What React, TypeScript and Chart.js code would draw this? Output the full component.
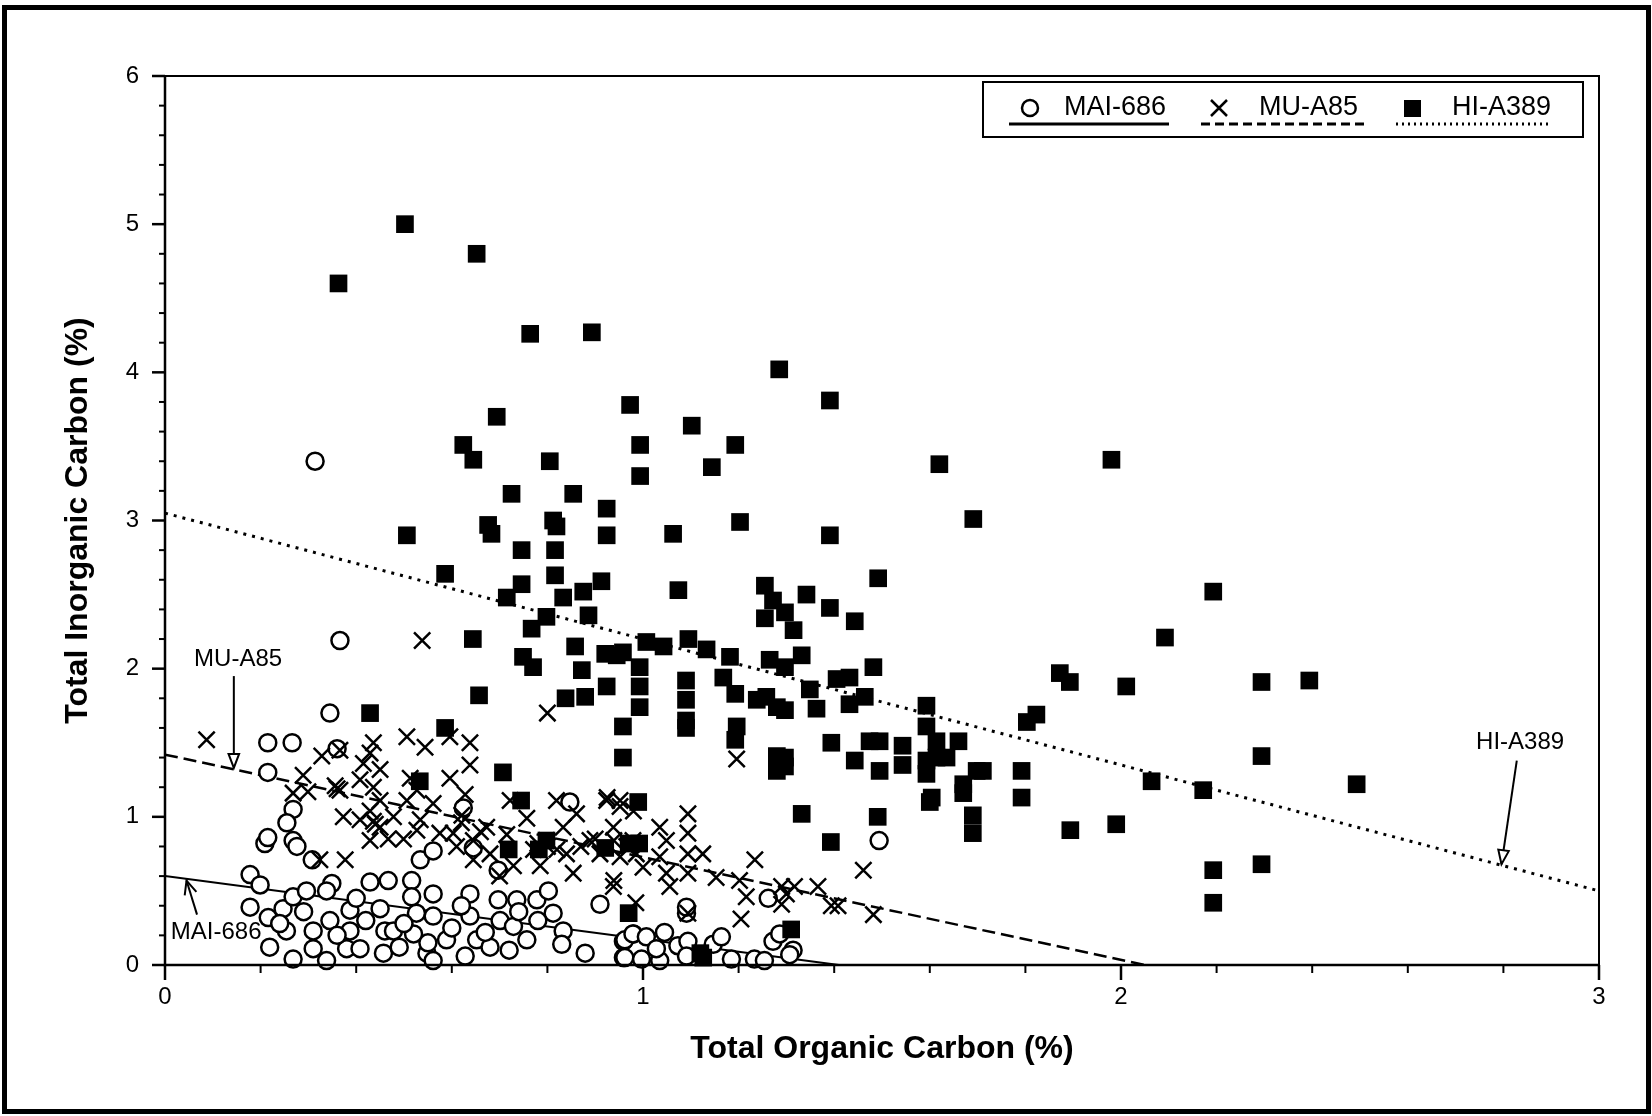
import React, { useEffect, useRef } from "react";
import { Chart, registerables } from "chart.js";

Chart.register(...registerables);

const SANS = "'Liberation Sans', Arial, Helvetica, sans-serif";
const NARROW = "'Liberation Sans Narrow', 'Arial Narrow', 'Liberation Sans', Arial, sans-serif";

// ---- axis ticks & titles ----
const xTickValues = [0, 1, 2, 3];
const yTickValues = [0, 1, 2, 3, 4, 5, 6];
const xTitle = "Total Organic Carbon (%)";
const yTitle = "Total Inorganic Carbon (%)";
const seriesNames = ["MAI-686", "MU-A85", "HI-A389"];

// ---- series values: [TOC %, TIC %] ----
const mai686: [number, number][] = [
  [0.314, 3.4], [0.366, 2.19], [0.345, 1.7], [0.215, 1.5], [0.266, 1.5], [0.36, 1.46], [0.215, 1.3], [0.847, 1.1], [1.494, 0.84],
  [0.268, 1.05], [0.255, 0.96], [0.268, 0.84], [0.276, 0.8], [0.209, 0.82], [0.215, 0.86], [0.308, 0.71], [0.624, 1.06], [0.645, 0.79],
  [0.178, 0.61], [0.199, 0.54], [0.178, 0.39], [0.216, 0.32], [0.247, 0.38], [0.268, 0.46], [0.254, 0.23], [0.219, 0.12], [0.268, 0.04],
  [0.296, 0.5], [0.349, 0.55], [0.338, 0.5], [0.31, 0.23], [0.31, 0.11], [0.338, 0.03], [0.345, 0.3], [0.387, 0.37], [0.38, 0.11],
  [0.408, 0.11], [0.387, 0.23], [0.429, 0.56], [0.467, 0.57], [0.45, 0.38], [0.46, 0.23], [0.457, 0.08], [0.478, 0.23], [0.516, 0.57],
  [0.516, 0.46], [0.526, 0.35], [0.52, 0.21], [0.548, 0.08], [0.561, 0.48], [0.561, 0.33], [0.589, 0.17], [0.561, 0.03], [0.628, 0.06],
  [0.638, 0.48], [0.638, 0.33], [0.652, 0.17], [0.697, 0.44], [0.701, 0.3], [0.68, 0.12], [0.736, 0.44], [0.729, 0.26], [0.757, 0.17],
  [0.778, 0.44], [0.802, 0.5], [0.812, 0.35], [0.833, 0.23], [0.83, 0.14], [0.879, 0.08], [0.91, 0.41], [0.959, 0.16], [0.959, 0.05],
  [0.98, 0.21], [0.697, 0.64], [0.534, 0.71], [0.561, 0.77],
  [0.24, 0.28], [0.29, 0.36], [0.36, 0.2], [0.42, 0.3], [0.5, 0.28], [0.6, 0.25], [0.67, 0.22], [0.74, 0.36], [0.78, 0.3], [0.62, 0.4],
  [0.55, 0.15], [0.49, 0.12], [0.72, 0.1], [0.4, 0.45],
  [0.962, 0.17], [0.979, 0.21], [1.007, 0.19], [1.045, 0.22], [0.962, 0.05], [0.997, 0.04], [1.035, 0.03], [1.028, 0.11], [1.073, 0.13],
  [1.094, 0.16], [1.091, 0.06], [1.147, 0.14], [1.164, 0.19], [1.185, 0.04], [1.233, 0.04], [1.254, 0.03], [1.272, 0.16], [1.286, 0.21],
  [1.314, 0.1], [1.307, 0.07], [1.262, 0.45], [1.091, 0.35], [1.091, 0.39],
];

const muA85: [number, number][] = [
  [0.087, 1.52], [0.538, 2.19], [0.8, 1.7], [1.196, 1.39],
  [0.328, 1.41], [0.366, 1.45], [0.289, 1.28], [0.268, 1.16], [0.299, 1.17], [0.356, 1.21], [0.366, 1.18], [0.36, 1.19],
  [0.436, 1.5], [0.429, 1.43], [0.415, 1.36], [0.45, 1.32], [0.408, 1.25], [0.436, 1.2], [0.45, 1.11], [0.429, 1.04], [0.373, 1.0],
  [0.408, 0.98], [0.436, 0.97], [0.45, 0.93], [0.429, 0.84], [0.467, 0.85], [0.499, 0.85], [0.478, 1.0],
  [0.506, 1.54], [0.544, 1.47], [0.513, 1.26], [0.527, 1.18], [0.506, 1.11], [0.534, 0.98], [0.527, 0.91], [0.561, 1.09],
  [0.596, 1.54], [0.638, 1.5], [0.638, 1.35], [0.596, 1.26], [0.628, 1.15], [0.621, 1.01], [0.603, 0.89], [0.61, 0.8], [0.575, 0.89],
  [0.645, 0.84], [0.645, 0.71], [0.673, 0.93], [0.68, 0.75], [0.715, 0.88], [0.729, 0.67], [0.757, 0.99], [0.771, 0.78], [0.785, 0.67],
  [0.798, 0.84], [0.819, 1.11], [0.833, 0.93], [0.84, 0.75], [0.854, 0.62], [0.861, 1.02], [0.889, 0.84], [0.924, 1.11], [0.938, 0.93],
  [0.91, 0.75], [0.938, 0.53], [0.952, 1.07], [0.966, 0.8], [0.722, 1.11], [0.324, 0.71], [0.377, 0.71], [0.7, 0.6],
  [0.44, 0.95], [0.8, 0.8], [0.78, 0.82], [0.82, 0.78], [0.87, 0.8], [0.9, 0.85], [0.62, 0.96], [0.66, 0.9],
  [1.094, 1.02], [1.094, 0.89], [1.094, 0.75], [1.094, 0.62], [1.094, 0.35], [1.035, 0.93], [1.049, 0.84], [1.049, 0.62], [1.056, 0.53],
  [0.985, 0.42], [1.125, 0.75], [1.153, 0.59], [1.202, 0.57], [1.216, 0.46], [1.205, 0.31], [1.234, 0.71], [1.29, 0.53], [1.3, 0.48],
  [1.317, 0.53], [1.29, 0.41], [1.366, 0.53], [1.394, 0.4], [1.408, 0.4], [1.461, 0.64], [1.482, 0.34], [0.939, 0.84], [0.952, 0.73],
  [0.939, 0.57], [0.979, 0.84], [0.986, 0.75], [1.0, 0.66], [1.035, 0.73], [0.925, 1.13], [0.952, 1.11], [0.98, 1.04],
];

const hiA389: [number, number][] = [
  [0.502, 5.0], [0.652, 4.8], [0.363, 4.6], [0.764, 4.26], [0.893, 4.27], [1.285, 4.02], [0.973, 3.78], [1.391, 3.81], [0.694, 3.7],
  [1.102, 3.64], [0.624, 3.51], [0.645, 3.41], [0.994, 3.51], [0.994, 3.3], [1.193, 3.51], [1.144, 3.36], [0.805, 3.4], [1.62, 3.38],
  [1.98, 3.41], [0.725, 3.18], [0.854, 3.18], [0.924, 3.08], [1.691, 3.01], [0.676, 2.97], [0.683, 2.91], [0.812, 3.0], [0.819, 2.96],
  [0.924, 2.9], [1.063, 2.91], [1.203, 2.99], [0.506, 2.9], [1.391, 2.9],
  [0.746, 2.8], [0.816, 2.8], [0.816, 2.63], [0.586, 2.64], [0.746, 2.57], [0.715, 2.48], [0.833, 2.48], [0.875, 2.52], [0.913, 2.59],
  [1.074, 2.53], [1.255, 2.56], [1.492, 2.61], [2.193, 2.52], [1.342, 2.5], [1.272, 2.46], [1.391, 2.41], [0.886, 2.36], [0.798, 2.35],
  [1.255, 2.34], [1.297, 2.38], [1.443, 2.32], [0.767, 2.27], [1.315, 2.26], [0.644, 2.2], [2.092, 2.21], [0.858, 2.15], [1.095, 2.2],
  [1.007, 2.18], [1.043, 2.15], [1.133, 2.13], [0.749, 2.08], [0.921, 2.1], [0.958, 2.11], [0.945, 2.09], [1.182, 2.08], [1.332, 2.09],
  [1.265, 2.06], [0.77, 2.01], [0.872, 1.99], [0.993, 2.01], [1.297, 2.01], [1.482, 2.01], [1.872, 1.97], [1.893, 1.91], [2.011, 1.88],
  [2.294, 1.91], [2.394, 1.92], [1.09, 1.92], [1.168, 1.94], [1.405, 1.93], [1.432, 1.94], [0.993, 1.88], [0.924, 1.88], [1.349, 1.86],
  [1.193, 1.83], [0.879, 1.81], [0.838, 1.8], [0.657, 1.82], [1.258, 1.81], [1.09, 1.79], [1.238, 1.79], [1.464, 1.81], [1.593, 1.75],
  [1.432, 1.76], [0.993, 1.74], [1.28, 1.74], [1.363, 1.73], [1.297, 1.72], [0.429, 1.7], [1.823, 1.69], [1.803, 1.64], [1.09, 1.65],
  [0.958, 1.61], [1.09, 1.6], [1.196, 1.61], [1.593, 1.61], [0.586, 1.6], [1.193, 1.52],
  [1.394, 1.5], [1.474, 1.51], [1.495, 1.51], [1.543, 1.48], [1.614, 1.51], [1.66, 1.51], [0.958, 1.4], [1.28, 1.41], [1.297, 1.4],
  [1.443, 1.38], [1.614, 1.4], [1.635, 1.4], [1.593, 1.38], [1.543, 1.35], [2.294, 1.41], [1.28, 1.31], [1.297, 1.34], [1.495, 1.31],
  [1.593, 1.29], [1.698, 1.31], [1.711, 1.31], [1.792, 1.31], [0.707, 1.3], [0.533, 1.24], [2.064, 1.24], [2.493, 1.22], [1.67, 1.22],
  [2.172, 1.18], [1.67, 1.16], [1.604, 1.13], [1.792, 1.13], [0.99, 1.1], [0.745, 1.11], [1.6, 1.1], [1.332, 1.02], [1.491, 1.0],
  [1.69, 1.01], [1.894, 0.91], [1.99, 0.95], [1.69, 0.89], [1.393, 0.83], [0.719, 0.78], [0.798, 0.84], [0.782, 0.78], [0.921, 0.79],
  [0.97, 0.82], [0.992, 0.82], [2.193, 0.64], [2.294, 0.68], [2.193, 0.42], [0.97, 0.35], [1.31, 0.24], [1.126, 0.05], [1.12, 0.08],
];

// ---- trend lines (end points) ----
const maiTrendX = [0, 1.41];
const maiTrendY = [0.6, 0];
const muTrendX = [0, 2.05];
const muTrendY = [1.42, 0];
const hiTrendX = [0, 3];
const hiTrendY = [3.05, 0.5];

// ---- call-out labels (data units): label centre, arrow start, arrow tip ----
const calloutText = ["MU-A85", "MAI-686", "HI-A389"];
const calloutLabel: [number, number][] = [[0.153, 2.06], [0.107, 0.22], [2.835, 1.5]];
const calloutFrom: [number, number][] = [[0.144, 1.95], [0.067, 0.34], [2.828, 1.38]];
const calloutTo: [number, number][] = [[0.144, 1.33], [0.045, 0.57], [2.796, 0.68]];
const calloutHead = ["triangle", "open", "triangle"];

function drawHead(ctx: CanvasRenderingContext2D, fx: number, fy: number, tx: number, ty: number, kind: string) {
  const ang = Math.atan2(ty - fy, tx - fx);
  const len = 15;
  const spread = kind === "open" ? 0.42 : 0.36;
  const ax = tx - len * Math.cos(ang - spread);
  const ay = ty - len * Math.sin(ang - spread);
  const bx = tx - len * Math.cos(ang + spread);
  const by = ty - len * Math.sin(ang + spread);
  ctx.beginPath();
  if (kind === "triangle") {
    ctx.moveTo(tx, ty);
    ctx.lineTo(ax, ay);
    ctx.lineTo(bx, by);
    ctx.closePath();
    ctx.fillStyle = "#fff";
    ctx.fill();
    ctx.stroke();
  } else {
    ctx.moveTo(ax, ay);
    ctx.lineTo(tx, ty);
    ctx.lineTo(bx, by);
    ctx.stroke();
  }
}

const decorPlugin = {
  id: "decor",
  beforeDraw(chart: any) {
    const ctx = chart.ctx as CanvasRenderingContext2D;
    ctx.save();
    ctx.fillStyle = "#fff";
    ctx.fillRect(0, 0, chart.width, chart.height);
    ctx.restore();
  },
  afterDraw(chart: any) {
    const ctx = chart.ctx as CanvasRenderingContext2D;
    const a = chart.chartArea;
    const xs = chart.scales.x;
    const ys = chart.scales.y;
    ctx.save();
    ctx.strokeStyle = "#000";
    ctx.fillStyle = "#000";
    ctx.lineCap = "butt";

    // outer frame
    ctx.lineWidth = 5;
    ctx.strokeRect(4.5, 7.5, 1644, 1104);

    // axes + plot frame
    ctx.lineWidth = 2.5;
    ctx.beginPath();
    ctx.moveTo(a.left, a.top);
    ctx.lineTo(a.left, a.bottom);
    ctx.lineTo(a.right, a.bottom);
    ctx.stroke();
    ctx.lineWidth = 2;
    ctx.beginPath();
    ctx.moveTo(a.left - 13, a.top);
    ctx.lineTo(a.right, a.top);
    ctx.lineTo(a.right, a.bottom);
    ctx.stroke();

    // tick marks (major + minor every 0.2)
    for (let i = 0; i <= 15; i++) {
      const px = xs.getPixelForValue(i / 5);
      const major = i % 5 === 0;
      ctx.lineWidth = major ? 2.5 : 2;
      ctx.beginPath();
      ctx.moveTo(px, a.bottom);
      ctx.lineTo(px, a.bottom + (major ? 15 : 8));
      ctx.stroke();
    }
    for (let i = 0; i <= 30; i++) {
      const py = ys.getPixelForValue(i / 5);
      const major = i % 5 === 0;
      ctx.lineWidth = major ? 2.5 : 2;
      ctx.beginPath();
      ctx.moveTo(a.left, py);
      ctx.lineTo(a.left - (major ? 13 : 6), py);
      ctx.stroke();
    }

    // call-outs
    ctx.font = `24px ${SANS}`;
    ctx.textAlign = "center";
    ctx.textBaseline = "middle";
    for (let i = 0; i < calloutText.length; i++) {
      const lx = xs.getPixelForValue(calloutLabel[i][0]);
      const ly = ys.getPixelForValue(calloutLabel[i][1]);
      ctx.fillStyle = "#000";
      ctx.fillText(calloutText[i], lx, ly);
      const fx = xs.getPixelForValue(calloutFrom[i][0]);
      const fy = ys.getPixelForValue(calloutFrom[i][1]);
      const tx = xs.getPixelForValue(calloutTo[i][0]);
      const ty = ys.getPixelForValue(calloutTo[i][1]);
      ctx.lineWidth = 2;
      ctx.beginPath();
      ctx.moveTo(fx, fy);
      ctx.lineTo(tx, ty);
      ctx.stroke();
      drawHead(ctx, fx, fy, tx, ty, calloutHead[i]);
    }

    // legend box
    ctx.lineWidth = 2;
    ctx.fillStyle = "#fff";
    ctx.fillRect(983, 82, 600, 55);
    ctx.strokeRect(983, 82, 600, 55);
    ctx.fillStyle = "#000";
    ctx.font = `27px ${SANS}`;
    ctx.textAlign = "left";
    ctx.textBaseline = "middle";
    const cy = 108;
    // MAI-686
    ctx.lineWidth = 2.5;
    ctx.beginPath();
    ctx.arc(1030, cy, 8, 0, Math.PI * 2);
    ctx.stroke();
    ctx.fillText(seriesNames[0], 1064, cy);
    ctx.lineWidth = 3;
    ctx.setLineDash([]);
    ctx.beginPath();
    ctx.moveTo(1009, 124);
    ctx.lineTo(1169, 124);
    ctx.stroke();
    // MU-A85
    ctx.lineWidth = 2.5;
    ctx.beginPath();
    ctx.moveTo(1211, cy - 8);
    ctx.lineTo(1227, cy + 8);
    ctx.moveTo(1227, cy - 8);
    ctx.lineTo(1211, cy + 8);
    ctx.stroke();
    ctx.fillText(seriesNames[1], 1259, cy);
    ctx.lineWidth = 3;
    ctx.setLineDash([9, 5]);
    ctx.beginPath();
    ctx.moveTo(1201, 124);
    ctx.lineTo(1364, 124);
    ctx.stroke();
    // HI-A389
    ctx.setLineDash([]);
    ctx.fillRect(1404, cy - 8, 17, 17);
    ctx.fillText(seriesNames[2], 1452, cy);
    ctx.lineWidth = 3;
    ctx.setLineDash([2, 4]);
    ctx.beginPath();
    ctx.moveTo(1396, 124);
    ctx.lineTo(1549, 124);
    ctx.stroke();
    ctx.setLineDash([]);
    ctx.restore();
  },
};

export default function App() {
  const ref = useRef<HTMLCanvasElement | null>(null);
  useEffect(() => {
    if (!ref.current) return;
    const toPts = (arr: [number, number][]) => arr.map(([x, y]) => ({ x, y }));
    const linePts = (xs: number[], ys: number[]) => xs.map((x, i) => ({ x, y: ys[i] }));
    const chart = new Chart(ref.current, {
      type: "scatter",
      data: {
        datasets: [
          {
            type: "line",
            label: seriesNames[0] + " trend",
            data: linePts(maiTrendX, maiTrendY),
            borderColor: "#000",
            borderWidth: 2,
            pointRadius: 0,
            fill: false,
            tension: 0,
            order: 10,
          },
          {
            type: "line",
            label: seriesNames[1] + " trend",
            data: linePts(muTrendX, muTrendY),
            borderColor: "#000",
            borderWidth: 2.5,
            borderDash: [13, 6],
            pointRadius: 0,
            fill: false,
            tension: 0,
            order: 10,
          },
          {
            type: "line",
            label: seriesNames[2] + " trend",
            data: linePts(hiTrendX, hiTrendY),
            borderColor: "#000",
            borderWidth: 3,
            borderDash: [3, 6],
            pointRadius: 0,
            fill: false,
            tension: 0,
            order: 10,
          },
          {
            label: seriesNames[2],
            data: toPts(hiA389),
            pointStyle: "rect",
            pointRadius: 12.5,
            backgroundColor: "#000",
            borderColor: "#000",
            borderWidth: 0,
            clip: false,
            order: 1,
          },
          {
            label: seriesNames[1],
            data: toPts(muA85),
            pointStyle: "crossRot",
            pointRadius: 11.5,
            borderColor: "#000",
            backgroundColor: "#000",
            borderWidth: 2.5,
            clip: false,
            order: 2,
          },
          {
            label: seriesNames[0],
            data: toPts(mai686),
            pointStyle: "circle",
            pointRadius: 8.5,
            backgroundColor: "#fff",
            borderColor: "#000",
            borderWidth: 2.5,
            clip: false,
            order: 3,
          },
        ],
      } as any,
      options: {
        animation: false,
        responsive: false,
        devicePixelRatio: 1,
        events: [],
        layout: { padding: { left: 0, top: 76, right: 53, bottom: 0 } },
        plugins: { legend: { display: false }, tooltip: { enabled: false } },
        scales: {
          x: {
            type: "linear",
            min: 0,
            max: 3,
            afterFit: (s: any) => {
              s.height = 151;
            },
            afterBuildTicks: (s: any) => {
              s.ticks = xTickValues.map((v) => ({ value: v }));
            },
            grid: { display: false, drawTicks: false },
            border: { display: false },
            ticks: {
              padding: 18,
              color: "#000",
              autoSkip: false,
              maxRotation: 0,
              font: { family: NARROW, size: 24 },
            },
            title: {
              display: true,
              text: xTitle,
              color: "#000",
              font: { family: SANS, size: 32, weight: "bold" },
              padding: { top: 0, bottom: 48 },
            },
          },
          y: {
            type: "linear",
            min: 0,
            max: 6,
            afterFit: (s: any) => {
              s.width = 165;
            },
            afterBuildTicks: (s: any) => {
              s.ticks = yTickValues.map((v) => ({ value: v }));
            },
            grid: { display: false, drawTicks: false },
            border: { display: false },
            ticks: {
              padding: 26,
              color: "#000",
              autoSkip: false,
              font: { family: NARROW, size: 24 },
            },
            title: {
              display: true,
              text: yTitle,
              color: "#000",
              font: { family: SANS, size: 32, weight: "bold" },
              padding: { top: 59, bottom: 0 },
            },
          },
        },
      } as any,
      plugins: [decorPlugin],
    });
    return () => chart.destroy();
  }, []);
  return (
    <div style={{ position: "fixed", left: 0, top: 0, width: 1652, height: 1116, background: "#fff" }}>
      <canvas ref={ref} width={1652} height={1116} style={{ display: "block", width: 1652, height: 1116 }} />
    </div>
  );
}
